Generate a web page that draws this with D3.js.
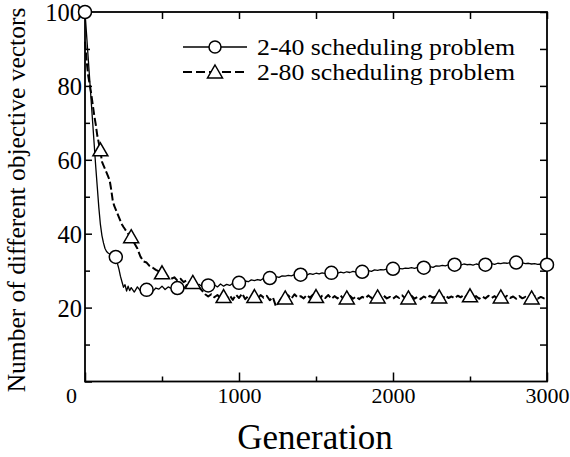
<!DOCTYPE html>
<html>
<head>
<meta charset="utf-8">
<script src="https://cdn.jsdelivr.net/npm/d3@7/dist/d3.min.js"></script>
<style>
html,body{margin:0;padding:0;background:#fff;}
svg{display:block;}
</style>
</head>
<body>
<svg id="chart" width="570" height="457"></svg>
<script>
// ---- data ----
const seriesNames = ["2-40 scheduling problem", "2-80 scheduling problem"];
const generations = [
  0,10,20,30,40,50,60,70,80,90,100,110,120,130,140,150,160,170,180,190,200,
  210,220,230,240,250,260,270,280,290,300,
  320,340,360,380,400,420,440,460,480,500,520,540,560,580,600,
  620,640,660,680,700,720,740,760,780,800,820,840,860,880,900,
  920,940,960,980,1000,1020,1040,1060,1080,1100,1120,1140,1160,1180,1200,
  1220,1240,1260,1280,1300,1320,1340,1360,1380,1400,1420,1440,1460,1480,1500,
  1520,1540,1560,1580,1600,1620,1640,1660,1680,1700,1720,1740,1760,1780,1800,
  1820,1840,1860,1880,1900,1920,1940,1960,1980,2000,2020,2040,2060,2080,2100,
  2120,2140,2160,2180,2200,2220,2240,2260,2280,2300,2320,2340,2360,2380,2400,
  2420,2440,2460,2480,2500,2520,2540,2560,2580,2600,2620,2640,2660,2680,2700,
  2720,2740,2760,2780,2800,2820,2840,2860,2880,2900,2920,2940,2960,2980,3000
];
const values2_40 = [
  100,94,88,82,76,70,64,58,52.5,47,42.5,39.5,37.5,36,35.2,34.8,34.5,34,34.2,33.5,33.2,
  32,30.5,28.5,27,25.5,26.2,24.5,25.8,24.6,25.4,
  24.2,25.6,24.5,25.2,24.8,25.5,24.4,25.3,25.0,25.8,24.9,25.6,25.2,26.0,25.3,
  25.8,25.1,26.2,25.6,26.0,25.4,26.3,25.7,26.1,25.9,25.4,26.2,25.6,26.4,25.8,
  26.3,26.0,26.6,26.2,26.7,26.9,27.2,27.0,27.5,27.3,27.6,27.4,27.9,27.7,28.0,
  28.1,28.4,28.2,28.6,28.5,28.7,28.6,28.9,28.8,28.9,29.0,28.8,29.2,29.0,29.3,
  29.1,29.4,29.2,29.5,29.4,29.5,29.3,29.6,29.4,29.7,29.5,29.8,29.6,29.8,29.7,
  29.9,30.0,29.8,30.2,30.1,30.3,30.2,30.4,30.3,30.5,30.4,30.6,30.5,30.7,30.6,
  30.8,30.6,30.9,30.8,30.8,31.0,31.1,30.9,31.3,31.2,31.4,31.3,31.6,31.5,31.6,
  31.7,31.5,31.8,31.6,31.7,31.5,31.8,31.6,31.7,31.6,31.8,31.9,31.7,32.0,31.9,
  32.1,32.0,32.2,32.1,32.2,32.0,32.1,31.9,32.0,31.8,31.9,31.7,31.8,31.6,31.6
];
const values2_80 = [
  92,87,83,80.5,78,75,72,69.5,66.5,64.5,62.5,59.5,58.5,57.5,56.5,55.5,54.5,52,49,47.5,46.5,
  45.5,44.5,43.5,42.5,41.8,41.2,40.5,40,39.5,39.2,
  37.5,36,33.8,32.5,32.2,31.2,30.8,30.2,29.8,29.4,28.9,28.3,27.8,28.2,27.3,
  27.8,26.9,27.4,26.6,26.8,26.2,25.5,24.6,23.6,23.0,23.6,22.8,23.4,22.6,23.0,
  22.4,23.3,22.1,23.5,22.6,23.8,22.3,23.1,22.5,23.0,22.2,23.4,22.7,23.2,22.0,
  22.8,20.3,21.6,22.9,22.6,23.3,22.4,23.6,22.8,23.1,22.5,23.4,22.7,23.5,23.0,
  22.3,23.2,22.6,23.4,22.4,23.1,22.5,23.3,22.2,22.6,23.2,22.4,23.0,22.3,22.9,
  22.5,23.3,22.6,23.1,22.9,22.3,23.2,22.5,22.9,22.4,23.1,22.6,23.3,22.5,22.6,
  23.2,22.4,22.9,22.3,23.0,22.5,23.2,22.7,23.1,22.9,22.4,23.3,22.6,23.0,22.5,
  23.2,22.8,23.4,22.7,23.2,22.6,23.1,22.4,23.0,22.5,23.2,22.6,23.1,22.4,22.9,
  22.5,23.2,22.6,23.0,22.4,23.1,22.5,22.9,22.3,22.6,23.1,22.4,22.9,22.5,22.7
];
const circleGens = [0,200,400,600,800,1000,1200,1400,1600,1800,2000,2200,2400,2600,2800,3000];
const circleVals = [100,33.7,24.8,25.3,26,26.7,28,28.9,29.4,29.7,30.5,30.8,31.6,31.6,32.2,31.6];
const triangleGens = [100,300,500,700,900,1100,1300,1500,1700,1900,2100,2300,2500,2700,2900];
const triangleVals = [62.7,39.2,29.4,26.8,23,23,22.6,23,22.6,22.9,22.6,22.9,23.2,22.9,22.6];
const xTicks = [0,1000,2000,3000];
const xMinorTicks = [500,1500,2500];
const yTicks = [20,40,60,80,100];
const yMinorTicks = [10,30,50,70,90];
const xTitle = "Generation";
const yTitle = "Number of different objective vectors";

// ---- layout ----
const L = 85, R = 547, T = 12, B = 381.5;
const svg = d3.select("#chart");
const x = d3.scaleLinear().domain([0,3000]).range([L,R]);
const y = d3.scaleLinear().domain([0,100]).range([B,T]);
const FONT = "'Liberation Serif', 'Times New Roman', Times, serif";

// lines
const line = d3.line().x((d,i)=>x(generations[i])).y(d=>y(d));
svg.append("path").attr("d", line(values2_80))
  .attr("fill","none").attr("stroke","#000").attr("stroke-width",2)
  .attr("stroke-dasharray","8,3").attr("stroke-linejoin","round");
svg.append("path").attr("d", line(values2_40))
  .attr("fill","none").attr("stroke","#000").attr("stroke-width",1.3)
  .attr("stroke-linejoin","round");

// axes frame
svg.append("rect").attr("x",L).attr("y",T).attr("width",R-L).attr("height",B-T)
  .attr("fill","none").attr("stroke","#000").attr("stroke-width",1.8);

function clean(g){ g.select(".domain").remove(); g.selectAll(".tick line").attr("stroke-width",1.5); return g; }

// bottom axis
const axB = d3.axisBottom(x).tickValues(xTicks).tickSizeInner(-9).tickSizeOuter(0).tickFormat(d3.format("d"));
const gB = clean(svg.append("g").attr("transform",`translate(0,${B})`).call(axB));
gB.attr("font-family",null).attr("font-size",null);
gB.selectAll(".tick text").attr("y",21).attr("dy",0)
  .style("font-family",FONT).style("font-size","22px").attr("dx", d => d===0 ? -14 : 0);
const axBm = d3.axisBottom(x).tickValues(xMinorTicks).tickSizeInner(-5).tickSizeOuter(0).tickFormat("");
clean(svg.append("g").attr("transform",`translate(0,${B})`).call(axBm));

// top axis
const axT = d3.axisTop(x).tickValues(xTicks.concat(xMinorTicks)).tickSizeInner(-7).tickSizeOuter(0).tickFormat("");
clean(svg.append("g").attr("transform",`translate(0,${T})`).call(axT));

// left axis
const axL = d3.axisLeft(y).tickValues([0].concat(yTicks)).tickSizeInner(-7).tickSizeOuter(0).tickFormat(d3.format("d"));
const gL = clean(svg.append("g").attr("transform",`translate(${L},0)`).call(axL));
gL.attr("font-family",null).attr("font-size",null);
gL.selectAll(".tick text").attr("x",-3).attr("dy","0.36em")
  .style("font-family",FONT).style("font-size","24.5px");
gL.selectAll(".tick text").filter(d=>d===0).remove();
const axLm = d3.axisLeft(y).tickValues(yMinorTicks).tickSizeInner(-5).tickSizeOuter(0).tickFormat("");
clean(svg.append("g").attr("transform",`translate(${L},0)`).call(axLm));

// right axis
const axR = d3.axisRight(y).tickValues(yTicks.concat(yMinorTicks)).tickSizeInner(-7).tickSizeOuter(0).tickFormat("");
clean(svg.append("g").attr("transform",`translate(${R},0)`).call(axR));

// markers
const triPath = "M0,-7L7.5,6L-7.5,6Z";
svg.append("g").selectAll("path").data(triangleGens).join("path")
  .attr("d",triPath).attr("transform",(d,i)=>`translate(${x(d)},${y(triangleVals[i])})`)
  .attr("fill","#fff").attr("stroke","#000").attr("stroke-width",1.5);
svg.append("g").selectAll("circle").data(circleGens).join("circle")
  .attr("cx",d=>x(d)).attr("cy",(d,i)=>y(circleVals[i])).attr("r",6.5)
  .attr("fill","#fff").attr("stroke","#000").attr("stroke-width",1.5);

// legend
const lg = svg.append("g");
const rows = [{y:47, dash:null, w:1.3, marker:"circle"},{y:72, dash:"9,4", w:2.2, marker:"tri"}];
rows.forEach((r,i)=>{
  lg.append("line").attr("x1",183).attr("x2",247).attr("y1",r.y).attr("y2",r.y)
    .attr("stroke","#000").attr("stroke-width",r.w).attr("stroke-dasharray",r.dash);
  if(r.marker==="circle"){
    lg.append("circle").attr("cx",215).attr("cy",r.y).attr("r",6)
      .attr("fill","#fff").attr("stroke","#000").attr("stroke-width",1.5);
  } else {
    lg.append("path").attr("d",triPath).attr("transform",`translate(215,${r.y})`)
      .attr("fill","#fff").attr("stroke","#000").attr("stroke-width",1.5);
  }
  lg.append("text").attr("x",257).attr("y",r.y+8)
    .attr("textLength",258).attr("lengthAdjust","spacingAndGlyphs")
    .style("font-family",FONT).style("font-size","22.5px").text(seriesNames[i]);
});

// titles
svg.append("text").attr("x",315).attr("y",449).attr("text-anchor","middle")
  .style("font-family",FONT).style("font-size","35px").text(xTitle);
svg.append("text").attr("transform","translate(25,200) rotate(-90)")
  .attr("text-anchor","middle").style("font-family",FONT).style("font-size","25.5px").text(yTitle);
</script>
</body>
</html>
